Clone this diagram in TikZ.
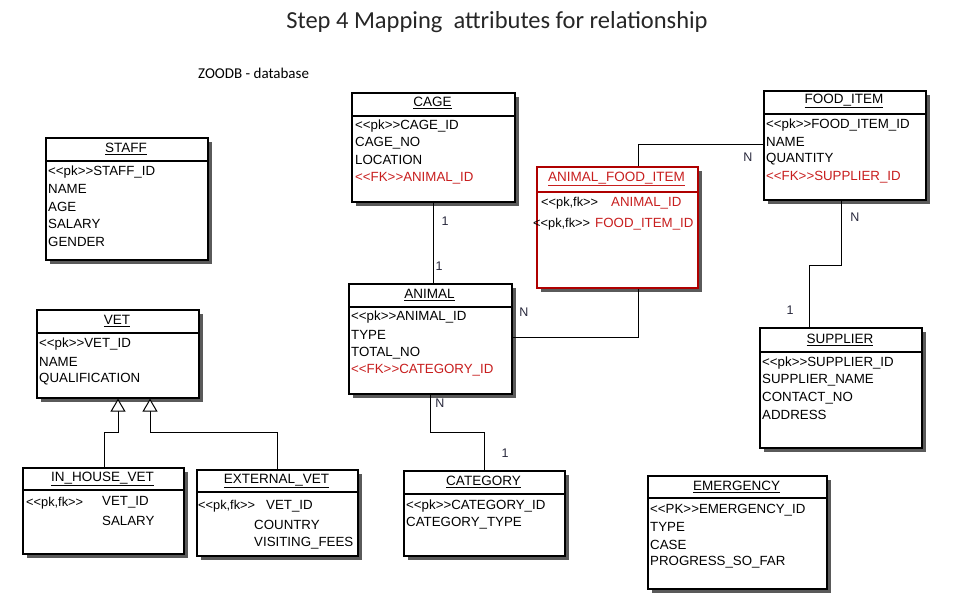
\documentclass[tikz,border=0pt]{standalone}
\usepackage{fontspec}
\setmainfont{Liberation Sans}
\newfontfamily\ttlfont{Carlito}
\usetikzlibrary{shadows,arrows.meta}
\definecolor{fkred}{RGB}{200,30,30}
\definecolor{afired}{RGB}{175,0,0}
\definecolor{lblcol}{RGB}{40,40,60}
\definecolor{shadowgray}{RGB}{90,90,90}
\newcommand\lsq{\textless\kern0pt\textless}
\newcommand\gsq{\textgreater\kern0pt\textgreater}
\tikzset{
  ent/.style={draw=black, line width=1.6pt, fill=white, inner sep=0pt, anchor=north west,
    drop shadow={shadow xshift=4pt, shadow yshift=-4pt, fill=shadowgray, opacity=1}},
  hdr/.style={line width=1.3pt},
  enttitle/.style={font=\fontsize{13.5}{15}\selectfont, inner sep=0pt},
  att/.style={font=\fontsize{13.3}{15}\selectfont, inner sep=0pt, anchor=west},
  fk/.style={att, text=fkred},
  pkfk/.style={att, font=\fontsize{12.8}{14}\selectfont},
  lbl/.style={font=\fontsize{12.5}{14}\selectfont, text=lblcol, inner sep=0pt},
  conn/.style={line width=1pt, draw=black},
  inh/.style={line width=1pt, draw=black, -{Triangle[open, length=13pt, width=15pt, fill=white]}}
}
\begin{document}
\begin{tikzpicture}[x=1pt,y=-1pt]
\useasboundingbox (0,0) rectangle (953,599);
\fill[white] (0,0) rectangle (953,599);

% titles
\node[font=\ttlfont\fontsize{24.5}{28}\selectfont, inner sep=0pt, text=black!85] (title) at (497,22) {Step 4 Mapping\ \ attributes for relationship};
\node[font=\ttlfont\fontsize{15}{17}\selectfont, inner sep=0pt, anchor=west] (db) at (198,73) {ZOODB - database};

% ---- CAGE
\node[ent, minimum width=163pt, minimum height=109pt] (cage) at (351,92) {};
\draw[hdr] (351,116) -- (514,116);
\node[enttitle] (cageT) at (432.5,103) {\underline{CAGE}};
\node[att] (cage1) at (355,126) {\lsq pk\gsq CAGE\_ID};
\node[att] (cage2) at (355,143) {CAGE\_NO};
\node[att] (cage3) at (355,160) {LOCATION};
\node[fk]  (cage4) at (355,178) {\lsq FK\gsq ANIMAL\_ID};

% ---- FOOD_ITEM
\node[ent, minimum width=162pt, minimum height=109pt] (food) at (763,90) {};
\draw[hdr] (763,114) -- (925,114);
\node[enttitle] (foodT) at (844,101) {\underline{FOOD\_ITEM}};
\node[att] (food1) at (766,125) {\lsq pk\gsq FOOD\_ITEM\_ID};
\node[att] (food2) at (766,142) {NAME};
\node[att] (food3) at (766,159) {QUANTITY};
\node[fk]  (food4) at (766,177) {\lsq FK\gsq SUPPLIER\_ID};

% ---- ANIMAL_FOOD_ITEM
\node[ent, draw=afired, minimum width=161pt, minimum height=121pt] (afi) at (536,166) {};
\draw[hdr, draw=afired] (536,192) -- (697,192);
\node[enttitle, text=fkred] (afiT) at (616.5,179) {\underline{ANIMAL\_FOOD\_ITEM}};
\node[pkfk] (afi1a) at (541,203) {\lsq pk,fk\gsq};
\node[fk] (afi1b) at (611,203) {ANIMAL\_ID};
\node[pkfk] (afi2a) at (533,224) {\lsq pk,fk\gsq};
\node[fk] (afi2b) at (595,224) {FOOD\_ITEM\_ID};

% ---- STAFF
\node[ent, minimum width=162pt, minimum height=122pt] (staff) at (45,137) {};
\draw[hdr] (45,161) -- (207,161);
\node[enttitle] (staffT) at (126,149) {\underline{STAFF}};
\node[att] (staff1) at (48,172) {\lsq pk\gsq STAFF\_ID};
\node[att] (staff2) at (48,189) {NAME};
\node[att] (staff3) at (48,207) {AGE};
\node[att] (staff4) at (48,224) {SALARY};
\node[att] (staff5) at (48,242) {GENDER};

% ---- VET
\node[ent, minimum width=162pt, minimum height=88pt] (vet) at (36,309) {};
\draw[hdr] (36,333) -- (198,333);
\node[enttitle] (vetT) at (117,321) {\underline{VET}};
\node[att] (vet1) at (39,344) {\lsq pk\gsq VET\_ID};
\node[att] (vet2) at (39,362) {NAME};
\node[att] (vet3) at (39,379) {QUALIFICATION};

% ---- IN_HOUSE_VET
\node[ent, minimum width=161pt, minimum height=86pt] (inh) at (22,467) {};
\draw[hdr] (22,490) -- (183,490);
\node[enttitle] (inhT) at (102.5,479) {\underline{IN\_HOUSE\_VET}};
\node[pkfk] (inh1a) at (26,503) {\lsq pk,fk\gsq};
\node[att] (inh1b) at (102,502) {VET\_ID};
\node[att] (inh2) at (102,521) {SALARY};

% ---- EXTERNAL_VET
\node[ent, minimum width=161pt, minimum height=86pt] (ext) at (196,469) {};
\draw[hdr] (196,492) -- (357,492);
\node[enttitle] (extT) at (276.5,481) {\underline{EXTERNAL\_VET}};
\node[pkfk] (ext1a) at (198,506) {\lsq pk,fk\gsq};
\node[att] (ext1b) at (266,506) {VET\_ID};
\node[att] (ext2) at (254,525) {COUNTRY};
\node[att] (ext3) at (254,543) {VISITING\_FEES};

% ---- ANIMAL
\node[ent, minimum width=163pt, minimum height=110pt] (animal) at (348,283) {};
\draw[hdr] (348,307) -- (511,307);
\node[enttitle] (animalT) at (429.5,295) {\underline{ANIMAL}};
\node[att] (an1) at (351,317) {\lsq pk\gsq ANIMAL\_ID};
\node[att] (an2) at (351,335) {TYPE};
\node[att] (an3) at (351,353) {TOTAL\_NO};
\node[fk]  (an4) at (351,370) {\lsq FK\gsq CATEGORY\_ID};

% ---- CATEGORY
\node[ent, minimum width=161pt, minimum height=85pt] (cat) at (403,470) {};
\draw[hdr] (403,494) -- (564,494);
\node[enttitle] (catT) at (483.5,482) {\underline{CATEGORY}};
\node[att] (cat1) at (406,506) {\lsq pk\gsq CATEGORY\_ID};
\node[att] (cat2) at (406,523) {CATEGORY\_TYPE};

% ---- SUPPLIER
\node[ent, minimum width=162pt, minimum height=120pt] (sup) at (759,327) {};
\draw[hdr] (759,352) -- (921,352);
\node[enttitle] (supT) at (840,340) {\underline{SUPPLIER}};
\node[att] (sup1) at (762,363) {\lsq pk\gsq SUPPLIER\_ID};
\node[att] (sup2) at (762,380) {SUPPLIER\_NAME};
\node[att] (sup3) at (762,398) {CONTACT\_NO};
\node[att] (sup4) at (762,415) {ADDRESS};

% ---- EMERGENCY
\node[ent, minimum width=179pt, minimum height=113pt] (emg) at (647,475) {};
\draw[hdr] (647,498) -- (826,498);
\node[enttitle] (emgT) at (736.5,487) {\underline{EMERGENCY}};
\node[att] (emg1) at (650,510) {\lsq PK\gsq EMERGENCY\_ID};
\node[att] (emg2) at (650,527) {TYPE};
\node[att] (emg3) at (650,545) {CASE};
\node[att] (emg4) at (650,562) {PROGRESS\_SO\_FAR};

% ---- helper coordinates
\coordinate (c5) at (433,0);
\coordinate (c6) at (638,145);
\coordinate (c7) at (638,337);
\coordinate (c1) at (841,265);
\coordinate (c2) at (809,265);
\coordinate (c3) at (430,432);
\coordinate (c4) at (484,432);
\coordinate (c8) at (104,432);
\coordinate (c9) at (118,432);
\coordinate (c10) at (150,432);
\coordinate (c11) at (277,432);

% ---- connectors
\draw[conn] (cage.south -| c5) -- (animal.north -| c5);
\draw[conn] (afi.north -| c6) |- (food.west |- c6);
\draw[conn] (animal.east |- c7) -| (afi.south -| c7);
\draw[conn] (food.south -| c1) -- (c1) -| (sup.north -| c2);
\draw[conn] (animal.south -| c3) -- (c3) -| (cat.north -| c4);
\draw[inh] (inh.north -| c8) |- (c9) -- (vet.south -| c9);
\draw[inh] (ext.north -| c11) |- (c10) -- (vet.south -| c10);

% ---- cardinality labels
\node[lbl] (l1) at (445,221) {1};
\node[lbl] (l2) at (439,266) {1};
\node[lbl] (l3) at (748,157) {N};
\node[lbl] (l4) at (524,312) {N};
\node[lbl] (l5) at (855,217) {N};
\node[lbl] (l6) at (790,310) {1};
\node[lbl] (l7) at (440,403) {N};
\node[lbl] (l8) at (505,453) {1};
\end{tikzpicture}
\end{document}
